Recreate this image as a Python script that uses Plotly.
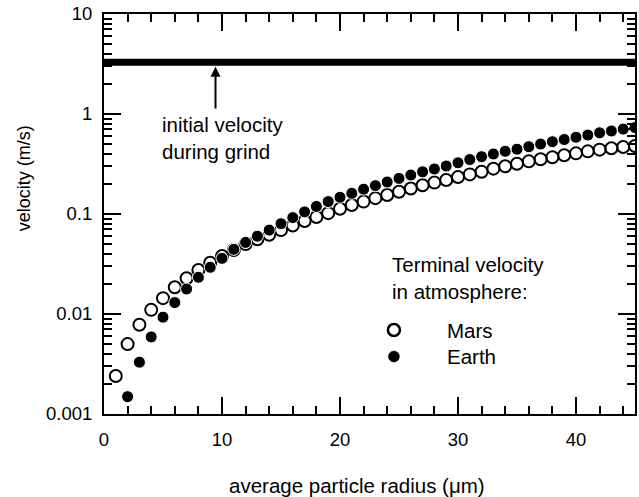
import plotly.graph_objects as go
import math

# ---- data ----
radius_mars = list(range(1, 46))
v_mars = [0.0024, 0.0050, 0.0078, 0.0110, 0.0144, 0.0185, 0.0228, 0.0275, 0.0325, 0.0380,
          0.0437, 0.0500, 0.0560, 0.0620, 0.0690, 0.0767, 0.0851, 0.0933, 0.1020, 0.1130,
          0.1230, 0.1330, 0.1440, 0.1550, 0.1670, 0.1800, 0.1940, 0.2060, 0.2190, 0.2340,
          0.2490, 0.2650, 0.2840, 0.3000, 0.3180, 0.3360, 0.3530, 0.3700, 0.3870, 0.4040,
          0.4230, 0.4400, 0.4550, 0.4680, 0.4780]

radius_earth = list(range(2, 46))
v_earth = [0.00149, 0.0033, 0.0059, 0.0093, 0.0130, 0.0178, 0.0233, 0.0293, 0.0360,
           0.0443, 0.0520, 0.0600, 0.0690, 0.0800, 0.0920, 0.1050, 0.1190, 0.1330, 0.1470,
           0.1610, 0.1770, 0.1920, 0.2090, 0.2270, 0.2450, 0.2640, 0.2820, 0.3020, 0.3250,
           0.3500, 0.3740, 0.3980, 0.4240, 0.4450, 0.4710, 0.5000, 0.5280, 0.5560, 0.5850,
           0.6160, 0.6480, 0.6760, 0.7060, 0.7320]

initial_velocity = 3.3
x_range = [0, 45]
y_major = [0.001, 0.01, 0.1, 1, 10]
y_major_text = ["0.001", "0.01", "0.1", "1", "10"]
y_minor = [m * d for d in [0.001, 0.01, 0.1, 1] for m in range(2, 10)]

FONT = "Liberation Sans, Arial, Helvetica, sans-serif"

fig = go.Figure()

# initial velocity line
fig.add_trace(go.Scatter(x=x_range, y=[initial_velocity, initial_velocity], mode="lines",
                         line=dict(color="black", width=7), showlegend=False,
                         hoverinfo="skip"))

# Mars (open circles)
fig.add_trace(go.Scatter(x=radius_mars, y=v_mars, mode="markers", name="Mars",
                         marker=dict(symbol="circle-open", size=12, color="black",
                                     line=dict(width=2, color="black")),
                         showlegend=False))
# Earth (filled circles)
fig.add_trace(go.Scatter(x=radius_earth, y=v_earth, mode="markers", name="Earth",
                         marker=dict(symbol="circle", size=12, color="black",
                                     line=dict(width=1, color="white")),
                         showlegend=False))

axis_common = dict(showline=True, linecolor="black", linewidth=2, mirror="ticks",
                   ticks="inside", tickcolor="black", tickwidth=2, showgrid=False,
                   zeroline=False, tickfont=dict(family=FONT, size=18.5, color="black"))

fig.update_xaxes(range=x_range, dtick=10, tick0=0, ticklen=17,
                 minor=dict(dtick=2, ticks="inside", ticklen=8, tickwidth=2,
                            tickcolor="black"),
                 ticklabelstandoff=8, **axis_common)
fig.update_yaxes(type="log", range=[-3, 1], tickmode="array", tickvals=y_major,
                 ticktext=y_major_text, ticklen=17,
                 minor=dict(tickmode="array", tickvals=y_minor, ticks="inside",
                            ticklen=8, tickwidth=2, tickcolor="black"),
                 ticklabelstandoff=6, **axis_common)

ann_font = dict(family=FONT, size=20.5, color="black")
annotations = [
    dict(text="average particle radius (\u03bcm)", xref="paper", yref="paper",
         x=0.4765, y=-0.1775, xanchor="center", yanchor="middle", showarrow=False,
         font=ann_font),
    dict(text="velocity (m/s)", xref="paper", yref="paper", x=-0.150, y=0.59,
         xanchor="center", yanchor="middle", textangle=-90, showarrow=False,
         font=dict(family=FONT, size=18, color="black")),
    dict(text="initial velocity<br>during grind", xref="x", yref="paper", x=4.73,
         y=0.691, xanchor="left", yanchor="middle", align="left", showarrow=False,
         font=ann_font),
    dict(text="", x=9.45, y=math.log10(2.97), xref="x", yref="y", axref="x", ayref="y",
         ax=9.45, ay=0.04, showarrow=True, arrowhead=2, arrowsize=1.0, arrowwidth=2,
         arrowcolor="black"),
    dict(text="Terminal velocity<br>in atmosphere:", xref="paper", yref="paper",
         x=(391 - 104) / 533, y=(414 - 277.5) / 400, xanchor="left", yanchor="middle",
         align="left", showarrow=False, font=ann_font),
    dict(text="Mars", xref="paper", yref="paper", x=(446 - 104) / 533,
         y=(414 - 330) / 400, xanchor="left", yanchor="middle", showarrow=False,
         font=ann_font),
    dict(text="Earth", xref="paper", yref="paper", x=(446 - 104) / 533,
         y=(414 - 356.5) / 400, xanchor="left", yanchor="middle", showarrow=False,
         font=ann_font),
]

shapes = [
    dict(type="circle", xref="paper", yref="paper", xsizemode="pixel", ysizemode="pixel",
         xanchor=(395 - 104) / 533, yanchor=(414 - 330) / 400, x0=-6, x1=6, y0=-6, y1=6,
         line=dict(color="black", width=2.5), fillcolor="rgba(0,0,0,0)"),
    dict(type="circle", xref="paper", yref="paper", xsizemode="pixel", ysizemode="pixel",
         xanchor=(395 - 104) / 533, yanchor=(414 - 356.5) / 400, x0=-5.5, x1=5.5,
         y0=-5.5, y1=5.5, line=dict(color="black", width=0.5), fillcolor="black"),
]

fig.update_layout(width=639, height=497, margin=dict(l=104, r=2, t=14, b=83),
                  plot_bgcolor="white", paper_bgcolor="white",
                  annotations=annotations, shapes=shapes, showlegend=False,
                  font=dict(family=FONT, color="black"))

fig.write_html("out.html")
